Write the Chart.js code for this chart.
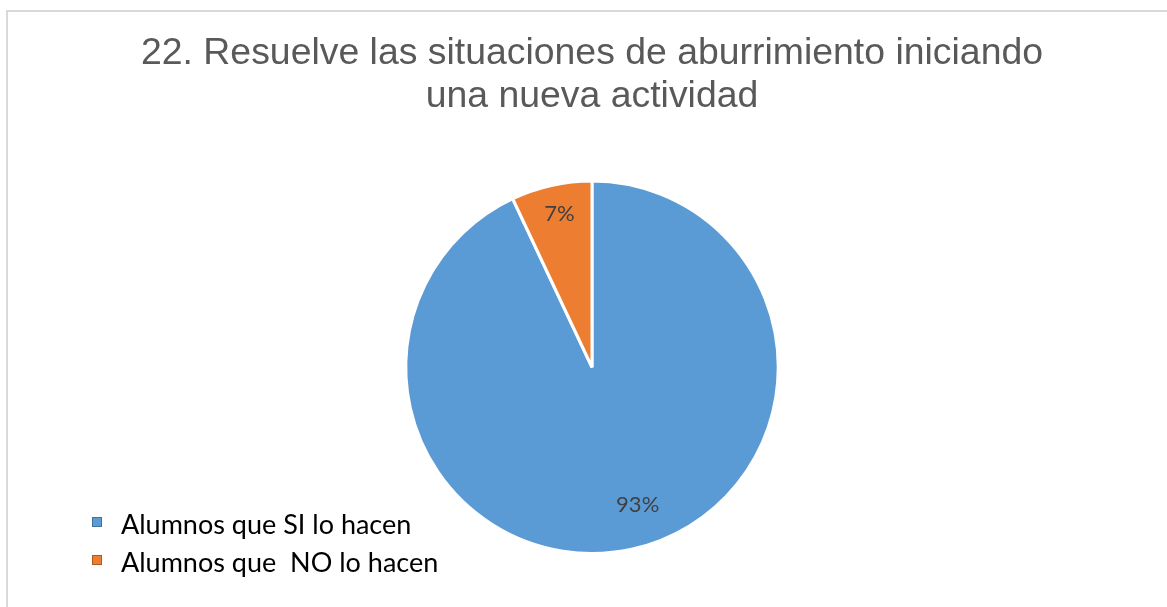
<!DOCTYPE html>
<html>
<head>
<meta charset="utf-8">
<script src="https://cdn.jsdelivr.net/npm/chart.js@4.4.1/dist/chart.umd.min.js"></script>
<style>
  html, body { margin: 0; padding: 0; background: #ffffff; }
  #wrap { position: relative; width: 1167px; height: 607px; overflow: hidden; }
  #frame { position: absolute; left: 6px; top: 10px; width: 1300px; height: 700px;
           border-left: 2px solid #d9d9d9; border-top: 2px solid #d9d9d9; box-sizing: border-box; }
  canvas { position: absolute; left: 0; top: 0; }
  #legend { position: absolute; left: 92px; top: 505px; font-family: Lato, "Open Sans", sans-serif;
            font-size: 27px; color: #000; }
  .item { position: relative; height: 38px; line-height: 38px; white-space: pre; }
  .box { position: absolute; width: 8px; height: 8px; top: 12px; border: 1px solid; }
  .txt { position: absolute; left: 29px; top: 0; }
</style>
</head>
<body>
<div id="wrap">
  <div id="frame"></div>
  <canvas id="c" width="1167" height="607"></canvas>
  <div id="legend"></div>
</div>
<script>
const titleLines = ["22. Resuelve las situaciones de aburrimiento iniciando", "una nueva actividad"];
const categories = ["Alumnos que SI lo hacen", "Alumnos que  NO lo hacen"];
const values = [93, 7];
const pctLabels = ["93%", "7%"];
const colors = ["#5B9BD5", "#ED7D31"];
const legendBorders = ["#41719C", "#AE5A21"];

// HTML legend (real text)
const leg = document.getElementById('legend');
categories.forEach((c, i) => {
  const it = document.createElement('div');
  it.className = 'item';
  const b = document.createElement('span');
  b.className = 'box';
  b.style.background = colors[i];
  b.style.borderColor = legendBorders[i];
  const t = document.createElement('span');
  t.className = 'txt';
  t.textContent = c;
  it.appendChild(b); it.appendChild(t);
  leg.appendChild(it);
});

const labelPlugin = {
  id: 'pieLabels',
  afterDatasetsDraw(chart, args, opts) {
    const ctx = chart.ctx;
    const meta = chart.getDatasetMeta(0);
    ctx.save();
    ctx.font = '22px Lato, "Open Sans", sans-serif';
    ctx.fillStyle = '#404040';
    ctx.textAlign = 'center';
    ctx.textBaseline = 'middle';
    meta.data.forEach((arc, i) => {
      const p = arc.getProps(['x', 'y', 'startAngle', 'endAngle', 'outerRadius'], true);
      const mid = (p.startAngle + p.endAngle) / 2 + (opts.angleShift[i] || 0);
      const r = p.outerRadius * opts.radial[i];
      ctx.fillText(pctLabels[i], p.x + Math.cos(mid) * r, p.y + Math.sin(mid) * r);
    });
    ctx.restore();
  }
};

new Chart(document.getElementById('c'), {
  type: 'pie',
  data: {
    labels: categories,
    datasets: [{
      data: values,
      backgroundColor: colors,
      borderColor: '#ffffff',
      borderWidth: 3
    }]
  },
  options: {
    responsive: false,
    animation: false,
    layout: { padding: { left: 17, right: 0, top: 0, bottom: 52 } },
    plugins: {
      legend: { display: false },
      tooltip: { enabled: false },
      title: {
        display: true,
        text: titleLines,
        color: '#595959',
        font: { family: '"Liberation Sans", Arial, sans-serif', size: 37.4, weight: 'normal', lineHeight: 1.13 },
        padding: { top: 33, bottom: 62 }
      },
      pieLabels: { radial: [0.78, 0.84], angleShift: [-0.1, 0.01] }
    }
  },
  plugins: [labelPlugin]
});
</script>
</body>
</html>
